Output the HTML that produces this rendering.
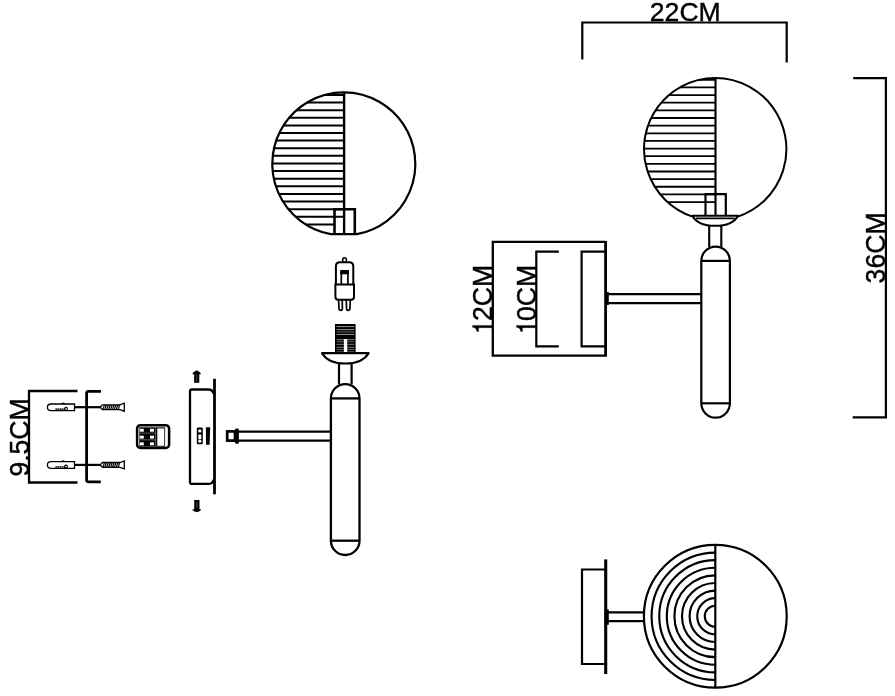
<!DOCTYPE html>
<html><head><meta charset="utf-8"><style>
html,body{margin:0;padding:0;background:#fff;}
svg{display:block;will-change:transform;}
text{font-family:"Liberation Sans",sans-serif;}
</style></head><body>
<svg width="895" height="696" viewBox="0 0 895 696">
<rect width="895" height="696" fill="#fff"/>
<g fill="none" stroke="#000" stroke-linecap="butt">
<clipPath id="g1"><circle cx="343.8" cy="163.9" r="71.5"/></clipPath>
<g clip-path="url(#g1)"><line x1="270.3" y1="94.90" x2="343.8" y2="94.90" stroke-width="2"/><line x1="270.3" y1="102.52" x2="343.8" y2="102.52" stroke-width="2"/><line x1="270.3" y1="110.14" x2="343.8" y2="110.14" stroke-width="2"/><line x1="270.3" y1="117.76" x2="343.8" y2="117.76" stroke-width="2"/><line x1="270.3" y1="125.38" x2="343.8" y2="125.38" stroke-width="2"/><line x1="270.3" y1="133.00" x2="343.8" y2="133.00" stroke-width="2"/><line x1="270.3" y1="140.62" x2="343.8" y2="140.62" stroke-width="2"/><line x1="270.3" y1="148.24" x2="343.8" y2="148.24" stroke-width="2"/><line x1="270.3" y1="155.86" x2="343.8" y2="155.86" stroke-width="2"/><line x1="270.3" y1="163.48" x2="343.8" y2="163.48" stroke-width="2"/><line x1="270.3" y1="171.10" x2="343.8" y2="171.10" stroke-width="2"/><line x1="270.3" y1="178.72" x2="343.8" y2="178.72" stroke-width="2"/><line x1="270.3" y1="186.34" x2="343.8" y2="186.34" stroke-width="2"/><line x1="270.3" y1="193.96" x2="343.8" y2="193.96" stroke-width="2"/><line x1="270.3" y1="201.58" x2="343.8" y2="201.58" stroke-width="2"/><line x1="270.3" y1="209.20" x2="343.8" y2="209.20" stroke-width="2"/><line x1="270.3" y1="216.82" x2="343.8" y2="216.82" stroke-width="2"/><line x1="270.3" y1="224.44" x2="334.5" y2="224.44" stroke-width="2"/></g>
<path d="M 330.76 234.2 A 71.5 71.5 0 1 1 356.84 234.2 Z" stroke-width="2.2"/>
<line x1="344.1" y1="92.4" x2="344.1" y2="234.2" stroke-width="2.4"/>
<path d="M 334.5 234 V 209.2 H 354.8 V 234" stroke-width="2.6"/>
<path d="M 342.7 261.8 V 259.6 A 1.8 1.8 0 0 1 346.3 259.6 V 261.8" stroke-width="1.6"/>
<path d="M 335.9 284.4 V 266.4 Q 335.9 262.3 340 262.3 H 349.2 Q 353.3 262.3 353.3 266.4 V 284.4" stroke-width="2"/>
<path d="M 335.4 284.5 H 354 V 296.8 Q 354 299.7 351.1 299.7 H 338.3 Q 335.4 299.7 335.4 296.8 Z" stroke-width="2"/>
<path d="M 341.3 284.4 V 272 M 347.9 284.4 V 272" stroke-width="1.7"/>
<rect x="340.2" y="270" width="8.8" height="4.3" fill="#000" stroke="none"/>
<path d="M 338.6 299.7 L 339 308.6 A 1.7 1.7 0 0 0 342.4 308.6 L 342.2 299.7" stroke-width="1.7"/>
<path d="M 346.3 299.7 L 346.5 308.6 A 1.7 1.7 0 0 0 349.9 308.6 L 350.3 299.7" stroke-width="1.7"/>
<rect x="335" y="324" width="20.6" height="29" fill="#000" stroke="none"/>
<line x1="336.6" y1="326.6" x2="354.2" y2="326.6" stroke="#fff" stroke-width="0.6"/>
<line x1="336.6" y1="329.6" x2="354.2" y2="329.6" stroke="#fff" stroke-width="0.6"/>
<line x1="336.6" y1="331.9" x2="354.2" y2="331.9" stroke="#fff" stroke-width="0.4"/>
<line x1="336.6" y1="334.4" x2="354.2" y2="334.4" stroke="#fff" stroke-width="0.6"/>
<line x1="336.6" y1="339.6" x2="354.2" y2="339.6" stroke="#fff" stroke-width="0.5"/>
<line x1="336.6" y1="341.7" x2="354.2" y2="341.7" stroke="#fff" stroke-width="0.4"/>
<line x1="336.6" y1="344.3" x2="354.2" y2="344.3" stroke="#fff" stroke-width="0.5"/>
<line x1="336.6" y1="347.3" x2="354.2" y2="347.3" stroke="#fff" stroke-width="0.5"/>
<line x1="336.6" y1="349.5" x2="354.2" y2="349.5" stroke="#fff" stroke-width="0.4"/>
<line x1="336.6" y1="351.8" x2="354.2" y2="351.8" stroke="#fff" stroke-width="0.4"/>
<rect x="343.9" y="339" width="3.3" height="14.2" fill="#fff" stroke="none"/>
<path d="M 322 353.2 H 368.6 Q 362.5 363.5 345.3 363.5 Q 328.1 363.5 322 353.2 Z" stroke-width="2.2" stroke-linejoin="round" fill="#fff"/>
<path d="M 339 363.5 V 384.5 M 351.6 363.5 V 384.5" stroke-width="2.2"/>
<path d="M 330.9 398.4 A 14.3 14.3 0 0 1 359.5 398.4 V 540.7 A 14.3 14.3 0 0 1 330.9 540.7 Z" stroke-width="2.3"/>
<line x1="330.9" y1="398.4" x2="359.5" y2="398.4" stroke-width="2.3"/>
<line x1="330.9" y1="540.7" x2="359.5" y2="540.7" stroke-width="2.3"/>
<line x1="238" y1="431.6" x2="331" y2="431.6" stroke-width="2.2"/>
<line x1="238" y1="440.6" x2="331" y2="440.6" stroke-width="2.2"/>
<rect x="227.2" y="431.4" width="7.8" height="9.2" rx="0" stroke-width="2.7" fill="none"/>
<rect x="235" y="428.4" width="3.9" height="15.3" rx="1.3" fill="#000" stroke="none"/>
<path d="M 213.6 393.8 Q 212.8 389.5 208.2 389.5 H 192 Q 190 389.5 190 391.5 V 481.9 Q 190 483.9 192 483.9 H 208.2 Q 212.8 483.9 213.6 479.6" stroke-width="2.3"/>
<line x1="214.5" y1="378.8" x2="214.5" y2="494.3" stroke-width="2.8"/>
<path d="M 194.1 382.8 V 374.2 H 192.2 Q 192.6 372.6 194.6 371.6 L 196.7 370.2 L 198.8 371.6 Q 200.8 372.6 201 374.2 H 199.3 V 382.8 Z" fill="#000" stroke="none"/>
<line x1="196.7" y1="374.5" x2="196.7" y2="381.5" stroke="#555" stroke-width="0.8"/>
<path d="M 194.2 500 V 509.2 H 192.2 Q 192.6 510.6 194.6 511.4 L 196.9 512.3 L 199 511.4 Q 201 510.6 201.1 509.2 H 199.5 V 500 Z" fill="#000" stroke="none"/>
<line x1="196.8" y1="501.5" x2="196.8" y2="508" stroke="#555" stroke-width="0.8"/>
<rect x="196.8" y="427.6" width="6" height="16.7" rx="1.2" fill="#000" stroke="none"/>
<circle cx="199.8" cy="430.9" r="1.65" fill="#fff" stroke="none"/>
<rect x="198.3" y="434.6" width="3" height="4.6" rx="0.8" fill="#fff" stroke="none"/>
<circle cx="199.8" cy="441.2" r="1.65" fill="#fff" stroke="none"/>
<path d="M 205.9 427.2 H 210.2 L 209.6 444.8 H 206 Z" fill="#000" stroke="none"/>
<path d="M 77.5 391 H 29 V 482.5 H 77.5" stroke-width="2.3"/>
<text x="0" y="0" transform="translate(28.8 476.6) rotate(-90) scale(1 1.02)" font-size="26.6" fill="#000" stroke="#000" stroke-width="0.4">9.5CM</text>
<path d="M 101 391.3 H 88.6 Q 86.6 391.3 86.6 393.3 V 479.8 Q 86.6 481.8 88.6 481.8 H 100.8" stroke-width="2.8"/>
<path d="M 74.5 404.0 H 51.2 Q 47.4 404.0 47.4 407.3 Q 47.4 410.7 51.2 410.7 H 74.5 Z" stroke-width="1.3"/>
<path d="M 55.5 409.2 H 65" stroke-width="1.8" stroke-dasharray="1.3 0.7"/>
<circle cx="66" cy="408.8" r="1.4" stroke-width="1.1"/>
<path d="M 61.8 404.0 Q 63.2 402.2 64.6 404.0" stroke-width="1.1"/>
<line x1="74.5" y1="407.2" x2="100.5" y2="407.2" stroke-width="2.2"/>
<path d="M 100.2 407.2 L 102.4 404.8 H 120 L 124.3 403.2 V 411.2 L 120 409.59999999999997 H 102.4 Z" stroke-width="1.3"/>
<path d="M 103.0 409.59999999999997 L 104.5 404.8 M 104.9 409.59999999999997 L 106.4 404.8 M 106.8 409.59999999999997 L 108.3 404.8 M 108.7 409.59999999999997 L 110.2 404.8 M 110.6 409.59999999999997 L 112.1 404.8 M 112.5 409.59999999999997 L 114.0 404.8 M 114.4 409.59999999999997 L 115.9 404.8 M 116.3 409.59999999999997 L 117.8 404.8 M 118.2 409.59999999999997 L 119.7 404.8 " stroke-width="1.2"/>
<path d="M 74.5 461.7 H 51.2 Q 47.4 461.7 47.4 465.0 Q 47.4 468.4 51.2 468.4 H 74.5 Z" stroke-width="1.3"/>
<path d="M 55.5 466.9 H 65" stroke-width="1.8" stroke-dasharray="1.3 0.7"/>
<circle cx="66" cy="466.5" r="1.4" stroke-width="1.1"/>
<path d="M 61.8 461.7 Q 63.2 459.9 64.6 461.7" stroke-width="1.1"/>
<line x1="74.5" y1="464.9" x2="100.5" y2="464.9" stroke-width="2.2"/>
<path d="M 100.2 464.9 L 102.4 462.5 H 120 L 124.3 460.9 V 468.9 L 120 467.29999999999995 H 102.4 Z" stroke-width="1.3"/>
<path d="M 103.0 467.29999999999995 L 104.5 462.5 M 104.9 467.29999999999995 L 106.4 462.5 M 106.8 467.29999999999995 L 108.3 462.5 M 108.7 467.29999999999995 L 110.2 462.5 M 110.6 467.29999999999995 L 112.1 462.5 M 112.5 467.29999999999995 L 114.0 462.5 M 114.4 467.29999999999995 L 115.9 462.5 M 116.3 467.29999999999995 L 117.8 462.5 M 118.2 467.29999999999995 L 119.7 462.5 " stroke-width="1.2"/>
<rect x="137.1" y="425.3" width="32" height="22.6" rx="3.2" stroke-width="2.5"/>
<rect x="139.3" y="427.3" width="25.8" height="19.4" fill="#000" stroke="none"/>
<rect x="139.8" y="428.8" width="4" height="2.9" fill="#fff" stroke="none"/>
<rect x="150" y="428.8" width="4" height="2.9" fill="#fff" stroke="none"/>
<rect x="139.8" y="435.7" width="4" height="2.9" fill="#fff" stroke="none"/>
<rect x="150" y="435.7" width="4" height="2.9" fill="#fff" stroke="none"/>
<rect x="139.8" y="442.4" width="4" height="2.9" fill="#fff" stroke="none"/>
<rect x="150" y="442.4" width="4" height="2.9" fill="#fff" stroke="none"/>
<path d="M 139.5 433.1 H 155.5 M 139.5 439.8 H 155.5" stroke="#fff" stroke-width="0.35"/>
<path d="M 155.6 427.5 V 446.5" stroke="#fff" stroke-width="0.35"/>
<rect x="157.3" y="428.4" width="7" height="17.4" fill="#fff" stroke="none"/>
<path d="M 582.3 59.4 V 22.5 H 786.7 V 62.6" stroke-width="2.2"/>
<text x="649.8" y="21.1" font-size="26.6" fill="#000" stroke="#000" stroke-width="0.4">22CM</text>
<path d="M 853.2 78.1 H 885.9 V 417.3 H 852.7" stroke-width="2.2"/>
<text x="0" y="0" transform="translate(884.9 283.4) rotate(-90) scale(1 1.05)" font-size="26.6" fill="#000" stroke="#000" stroke-width="0.4">36CM</text>
<clipPath id="g2"><circle cx="715.2" cy="149.1" r="71.2"/></clipPath>
<g clip-path="url(#g2)"><line x1="642.0" y1="79.80" x2="715.2" y2="79.80" stroke-width="1.8"/><line x1="642.0" y1="87.44" x2="715.2" y2="87.44" stroke-width="1.8"/><line x1="642.0" y1="95.08" x2="715.2" y2="95.08" stroke-width="1.8"/><line x1="642.0" y1="102.72" x2="715.2" y2="102.72" stroke-width="1.8"/><line x1="642.0" y1="110.36" x2="715.2" y2="110.36" stroke-width="1.8"/><line x1="642.0" y1="118.00" x2="715.2" y2="118.00" stroke-width="1.8"/><line x1="642.0" y1="125.64" x2="715.2" y2="125.64" stroke-width="1.8"/><line x1="642.0" y1="133.28" x2="715.2" y2="133.28" stroke-width="1.8"/><line x1="642.0" y1="140.92" x2="715.2" y2="140.92" stroke-width="1.8"/><line x1="642.0" y1="148.56" x2="715.2" y2="148.56" stroke-width="1.8"/><line x1="642.0" y1="156.20" x2="715.2" y2="156.20" stroke-width="1.8"/><line x1="642.0" y1="163.84" x2="715.2" y2="163.84" stroke-width="1.8"/><line x1="642.0" y1="171.48" x2="715.2" y2="171.48" stroke-width="1.8"/><line x1="642.0" y1="179.12" x2="715.2" y2="179.12" stroke-width="1.8"/><line x1="642.0" y1="186.76" x2="715.2" y2="186.76" stroke-width="1.8"/><line x1="642.0" y1="194.40" x2="715.2" y2="194.40" stroke-width="1.8"/><line x1="642.0" y1="202.04" x2="715.2" y2="202.04" stroke-width="1.8"/></g>
<path d="M 692.55 216.6 A 71.2 71.2 0 1 1 737.85 216.6" stroke-width="2"/>
<line x1="715.5" y1="77.89999999999999" x2="715.5" y2="217" stroke-width="2.2"/>
<path d="M 705.5 217 V 194.2 H 725.8 V 217" stroke-width="2.2"/>
<path d="M 692.4 215.7 H 738 Q 732.5 225.8 715.2 225.8 Q 697.9 225.8 692.4 215.7 Z" stroke-width="2.1" stroke-linejoin="round" fill="#fff"/>
<line x1="696" y1="218.3" x2="734.5" y2="218.3" stroke-width="1.8"/>
<path d="M 709.2 225.5 V 247 M 721.3 225.5 V 247" stroke-width="2.1"/>
<path d="M 701.3 260.9 A 14.3 14.3 0 0 1 729.9 260.9 V 403.3 A 14.3 14.3 0 0 1 701.3 403.3 Z" stroke-width="2.2"/>
<line x1="701.3" y1="260.9" x2="729.9" y2="260.9" stroke-width="2.2"/>
<line x1="701.3" y1="403.3" x2="729.9" y2="403.3" stroke-width="2.2"/>
<line x1="607.5" y1="294.1" x2="701.3" y2="294.1" stroke-width="2.1"/>
<line x1="607.5" y1="303.1" x2="701.3" y2="303.1" stroke-width="2.1"/>
<rect x="605" y="292" width="3.8" height="13" fill="#000" stroke="none"/>
<path d="M 491.6 241.9 H 605.6 M 491.6 355.6 H 605.6 M 492.8 241.9 V 355.6" stroke-width="2.3"/>
<line x1="605.6" y1="241" x2="605.6" y2="356.6" stroke-width="2.8"/>
<path d="M 605 251.6 H 581.6 V 346.3 H 605" stroke-width="2.2"/>
<path d="M 558.8 251.6 H 536.3 V 346.3 H 558.8" stroke-width="2.2"/>
<g transform="translate(492.2 335.8) rotate(-90) scale(1 1.03)"><path d="M 8.1 0 V -13.2 H 4.3 V -14.9 Q 6.6 -15.1 7.6 -16.4 Q 8.3 -17.5 8.5 -19.1 H 10.4 V 0 Z" fill="#000" stroke="#000" stroke-width="0.3"/><text x="14.79" y="0" font-size="26.6" fill="#000" stroke="#000" stroke-width="0.4">2CM</text></g>
<g transform="translate(535.9 335.8) rotate(-90) scale(1 1.02)"><path d="M 8.1 0 V -13.2 H 4.3 V -14.9 Q 6.6 -15.1 7.6 -16.4 Q 8.3 -17.5 8.5 -19.1 H 10.4 V 0 Z" fill="#000" stroke="#000" stroke-width="0.3"/><text x="14.79" y="0" font-size="26.6" fill="#000" stroke="#000" stroke-width="0.4">0CM</text></g>
<circle cx="715.3" cy="616.25" r="71.4" stroke-width="2.2"/>
<line x1="715.3" y1="544.85" x2="715.3" y2="687.65" stroke-width="2.2"/>
<path d="M 715.3 605.75 A 10.5 10.5 0 0 0 715.3 626.75 M 715.3 598.15 A 18.1 18.1 0 0 0 715.3 634.35 M 715.3 590.55 A 25.7 25.7 0 0 0 715.3 641.95 M 715.3 582.95 A 33.3 33.3 0 0 0 715.3 649.55 M 715.3 575.35 A 40.9 40.9 0 0 0 715.3 657.15 M 715.3 567.75 A 48.5 48.5 0 0 0 715.3 664.75 M 715.3 560.15 A 56.099999999999994 56.099999999999994 0 0 0 715.3 672.35 M 715.3 552.55 A 63.699999999999996 63.699999999999996 0 0 0 715.3 679.95 " stroke-width="2.15"/>
<line x1="607.5" y1="612.4" x2="645" y2="612.4" stroke-width="2.1"/>
<line x1="607.5" y1="621.1" x2="645" y2="621.1" stroke-width="2.1"/>
<rect x="604.8" y="609.5" width="4" height="15.3" fill="#000" stroke="none"/>
<line x1="605.7" y1="559.4" x2="605.7" y2="674" stroke-width="3.1"/>
<path d="M 605 569.5 H 582 V 664 H 605" stroke-width="2.2"/>
</g>
</svg>
</body></html>
